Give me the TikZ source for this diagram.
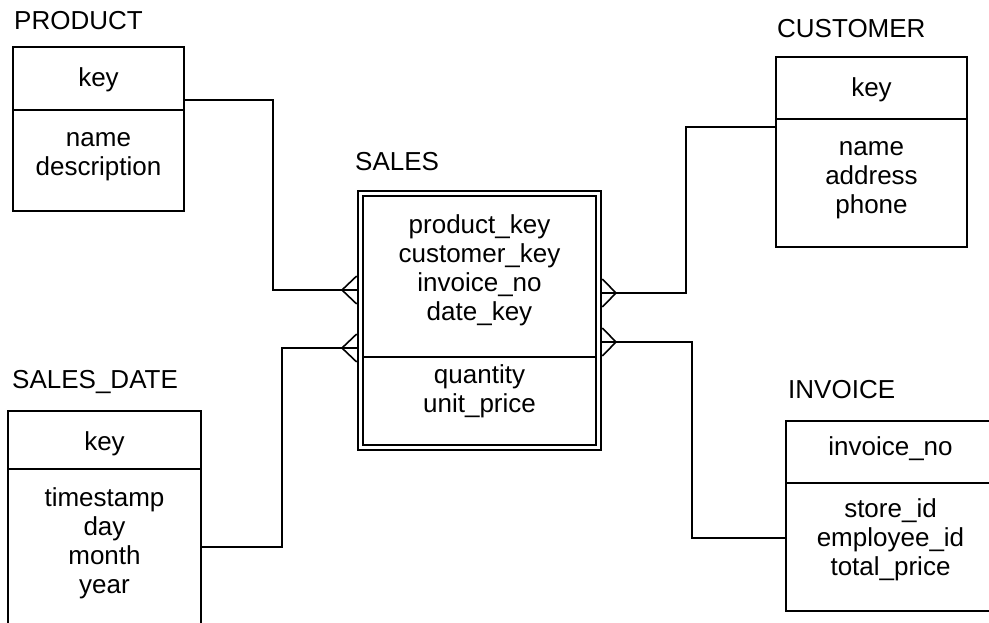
\documentclass[tikz,border=0pt]{standalone}
\usepackage{fontspec}
\setmainfont{Liberation Sans}
\begin{document}
\begin{tikzpicture}[x=1pt, y=-1pt,
  ent/.style={draw, line width=1.6pt, rectangle, inner sep=0pt},
  bar/.style={line width=1.6pt},
  conn/.style={line width=1.6pt},
  txt/.style={font=\fontsize{26}{29.3}\selectfont, inner sep=0pt, align=center},
  ttl/.style={font=\fontsize{26}{29.3}\selectfont, inner sep=0pt, anchor=base west}]
\useasboundingbox (0,0) rectangle (989,622);

% ---- entity boxes ----
\node[ent, minimum width=171pt, minimum height=164pt] (prod) at (98.5,129) {};
\node[ent, minimum width=191pt, minimum height=190pt] (cust) at (871.5,152) {};
\node[ent, minimum width=193pt, minimum height=229pt] (date) at (104.5,525.5) {};
\node[ent, minimum width=209pt, minimum height=190pt] (inv)  at (890.5,516) {};
% fact table: double frame
\node[ent, line width=2.6pt, minimum width=243pt, minimum height=259pt] (sales) at (479.5,320.5) {};
\node[ent, line width=2pt, minimum width=233pt, minimum height=249pt] (salesin) at (479.5,320.5) {};

% ---- compartment dividers ----
\draw[bar] (prod.west |- 0,110) -- (prod.east |- 0,110);
\draw[bar] (cust.west |- 0,119) -- (cust.east |- 0,119);
\draw[bar] (date.west |- 0,469) -- (date.east |- 0,469);
\draw[bar] (inv.west |- 0,483) -- (inv.east |- 0,483);
\draw[line width=2pt] (salesin.west |- 0,356.5) -- (salesin.east |- 0,356.5);

% ---- titles ----
\node[ttl] (tprod) at (14,29) {PRODUCT};
\node[ttl] (tcust) at (777,37) {CUSTOMER};
\node[ttl] (tsales) at (355,170) {SALES};
\node[ttl] (tdate) at (12,388) {SALES\_DATE};
\node[ttl] (tinv) at (788,398) {INVOICE};

% ---- attributes (multi-line nodes sit on the baseline of their last line) ----
\node[txt, anchor=base] (prodk) at (98.5,86) {key};
\node[txt, anchor=base] (proda) at (98.5,175.3) {name\\description};
\node[txt, anchor=base] (custk) at (871.5,96) {key};
\node[txt, anchor=base] (custa) at (871.5,213.6) {name\\address\\phone};
\node[txt, anchor=base] (salesk) at (479.5,320.9) {product\_key\\customer\_key\\invoice\_no\\date\_key};
\node[txt, anchor=base] (salesa) at (479.5,412.3) {quantity\\unit\_price};
\node[txt, anchor=base] (datek) at (104.5,450) {key};
\node[txt, anchor=base] (datea) at (104.5,593.9) {timestamp\\day\\month\\year};
\node[txt, anchor=base] (invk) at (890.5,455) {invoice\_no};
\node[txt, anchor=base] (inva) at (890.5,575.6) {store\_id\\employee\_id\\total\_price};

% ---- relationships (crow's foot on the SALES side) ----
\draw[conn] (prod.east |- 0,100) -| (273,290) -- (sales.west |- 0,290);
\draw[conn] (sales.west |- 0,276) -- (342,290) -- (sales.west |- 0,304);

\draw[conn] (date.east |- 0,547) -| (282,348) -- (sales.west |- 0,348);
\draw[conn] (sales.west |- 0,334) -- (342,348) -- (sales.west |- 0,362);

\draw[conn] (sales.east |- 0,293) -| (686,127) -- (cust.west |- 0,127);
\draw[conn] (sales.east |- 0,279) -- (616,293) -- (sales.east |- 0,307);

\draw[conn] (sales.east |- 0,342) -| (692,538) -- (inv.west |- 0,538);
\draw[conn] (sales.east |- 0,328) -- (616,342) -- (sales.east |- 0,356);
\end{tikzpicture}
\end{document}
